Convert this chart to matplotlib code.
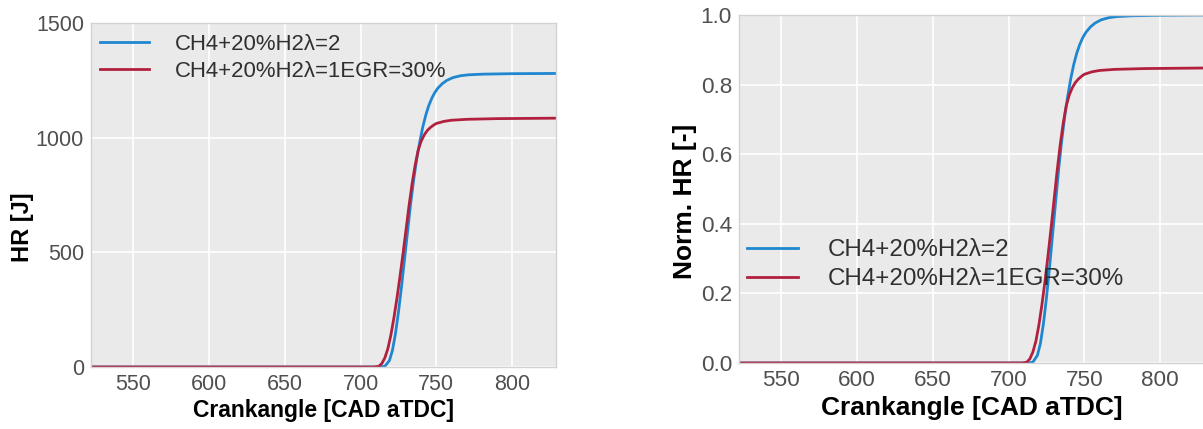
import matplotlib
matplotlib.use("Agg")
import matplotlib.pyplot as plt
import numpy as np

plt.rcParams['font.family'] = ['Liberation Sans', 'DejaVu Sans']

# Cumulative heat release [J] vs crank angle [CAD aTDC]
labels = ["CH4+20%H2\u03bb=2", "CH4+20%H2\u03bb=1EGR=30%"]

cad_lean = [522, 600, 700, 713, 716, 719, 721, 723, 725, 727, 729, 731, 733,
            735, 737, 739, 741, 743, 745, 747, 749, 751, 754, 757, 761, 766,
            771, 781, 800, 829]
hr_lean = [0, 0, 0, 0, 3, 28, 72, 145, 240, 350, 470, 590, 710,
           815, 905, 980, 1045, 1098, 1140, 1172, 1197, 1216, 1236, 1250,
           1262, 1270, 1274, 1277, 1279, 1280]

cad_egr = [522, 600, 700, 709, 712, 714, 716, 718, 720, 722, 724, 726, 728,
           730, 732, 734, 736, 738, 740, 742, 744, 746, 748, 750, 755, 760,
           770, 790, 829]
hr_egr = [0, 0, 0, 0, 3, 15, 40, 80, 140, 215, 300, 395, 495,
          600, 705, 800, 880, 945, 985, 1012, 1031, 1044, 1054, 1062, 1071,
          1076, 1080, 1083, 1085]

colors = ["#1f87d0", "#b1213e"]

x_ticks = [550, 600, 650, 700, 750, 800]
hr_ticks = [0, 500, 1000, 1500]
norm_ticks = [0.0, 0.2, 0.4, 0.6, 0.8, 1.0]

series = [(cad_lean, hr_lean), (cad_egr, hr_egr)]
hr_ref = max(hr_lean)

W, H = 1203, 429
fig = plt.figure(figsize=(W / 100, H / 100), dpi=100)
ax1 = fig.add_axes([91 / W, (H - 367) / H, 465 / W, 344 / H])
ax2 = fig.add_axes([739 / W, (H - 363) / H, 465 / W, 348 / H])


def style(ax, tick_fs, label_fs, xlabelpad):
    ax.set_facecolor("#eaeaea")
    ax.grid(True, color="white", linewidth=1.2)
    ax.set_axisbelow(True)
    for s in ax.spines.values():
        s.set_color("#d2d2d2")
        s.set_linewidth(1.0)
    ax.tick_params(length=0, pad=5, labelsize=tick_fs, labelcolor="#505050")
    ax.set_xlim(522, 829)
    ax.set_xticks(x_ticks)
    ax.set_xlabel("Crankangle [CAD aTDC]", fontsize=label_fs,
                  fontweight="bold", labelpad=xlabelpad)


for (cad, hr), c, lab in zip(series, colors, labels):
    ax1.plot(cad, hr, color=c, linewidth=2.0, label=lab)
    ax2.plot(cad, np.array(hr) / hr_ref, color=c, linewidth=2.0, label=lab)

style(ax1, 15.5, 16.5, 3)
ax1.set_ylim(0, 1500)
ax1.set_yticks(hr_ticks)
ax1.set_ylabel("HR [J]", fontsize=17, fontweight="bold")
ax1.yaxis.set_label_coords(-57 / 465, 0.405)

style(ax2, 16.2, 19, 4)
ax2.set_ylim(0, 1.0)
ax2.set_yticks(norm_ticks)
ax2.set_yticklabels([f"{v:.1f}" for v in norm_ticks])
ax2.set_ylabel("Norm. HR [-]", fontsize=19, fontweight="bold")
ax2.yaxis.set_label_coords(-42 / 465, 0.465)

leg1 = ax1.legend(bbox_to_anchor=(9 / 465, 1 - 10.5 / 344), frameon=False,
                  loc="upper left", borderpad=0, borderaxespad=0,
                  handlelength=2.2, handletextpad=1.18, labelspacing=0.3,
                  fontsize=15.9)
leg2 = ax2.legend(bbox_to_anchor=(8 / 465, 123.5 / 348), frameon=False,
                  loc="upper left", borderpad=0, borderaxespad=0,
                  handlelength=2.1, handletextpad=1.25, labelspacing=0.28,
                  fontsize=17.4)
for leg in (leg1, leg2):
    for txt in leg.get_texts():
        txt.set_color("#303030")

fig.savefig("out.png", dpi=100)
